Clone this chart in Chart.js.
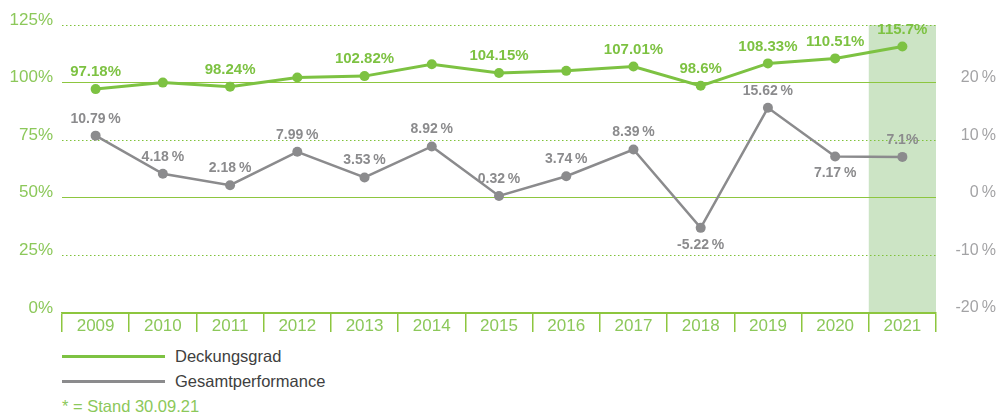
<!DOCTYPE html>
<html><head><meta charset="utf-8">
<script src="https://cdn.jsdelivr.net/npm/chart.js@4/dist/chart.umd.min.js"></script>
<style>
html,body{margin:0;padding:0;background:#fff;width:996px;height:414px;overflow:hidden;font-family:"Liberation Sans",Arial,sans-serif;}
#wrap{position:absolute;left:0;top:0;width:996px;height:340px;}
.leg{position:absolute;left:62px;height:20px;display:flex;align-items:center;font-size:16.5px;color:#404040;}
.leg .ln{display:inline-block;width:103px;height:3px;margin-right:10px;}
#note{position:absolute;left:62px;top:396px;font-size:16.5px;color:#8cc85a;line-height:20px;}
</style>
</head><body>
<div id="wrap"><canvas id="c" width="996" height="340"></canvas></div>
<div class="leg" style="top:346px"><span class="ln" style="background:#7dc242"></span>Deckungsgrad</div>
<div class="leg" style="top:371px"><span class="ln" style="background:#8b8b8d"></span>Gesamtperformance</div>
<div id="note">* = Stand 30.09.21</div>
<script>
const years = ['2009','2010','2011','2012','2013','2014','2015','2016','2017','2018','2019','2020','2021'];
const deckungsgrad = [97.18, 100.0, 98.24, 102.2, 102.82, 108.0, 104.15, 105.1, 107.01, 98.6, 108.33, 110.51, 115.7];
const deckungsLabels = ['97.18%', null, '98.24%', null, '102.82%', null, '104.15%', null, '107.01%', '98.6%', '108.33%', '110.51%', '115.7%'];
const performance = [10.79, 4.18, 2.18, 7.99, 3.53, 8.92, 0.32, 3.74, 8.39, -5.22, 15.62, 7.17, 7.1];
const perfLabels = ['10.79\u2009%', '4.18\u2009%', '2.18\u2009%', '7.99\u2009%', '3.53\u2009%', '8.92\u2009%', '0.32\u2009%', '3.74\u2009%', '8.39\u2009%', '-5.22\u2009%', '15.62\u2009%', '7.17\u2009%', '7.1%'];
const perfBelow = [false,false,false,false,false,false,false,false,false,true,false,true,false];
const highlightYear = '2021';

const GREEN = '#7dc242', GRAY = '#8b8b8d', AXG = '#8cc85a', GRID = '#8dc63f';
const FAM = '"Liberation Sans", Arial, sans-serif';

const shadePlugin = {
  id: 'shade',
  beforeDraw(chart) {
    const x = chart.scales.x, a = chart.chartArea, ctx = chart.ctx;
    const idx = years.indexOf(highlightYear);
    const w = x.width / years.length;
    const cx = x.getPixelForValue(idx);
    ctx.save();
    ctx.fillStyle = '#cce4c5';
    ctx.fillRect(cx - w / 2, a.top, w, a.bottom - a.top);
    ctx.restore();
  }
};

const labelPlugin = {
  id: 'ptLabels',
  afterDatasetsDraw(chart) {
    const ctx = chart.ctx;
    chart.data.datasets.forEach((ds, di) => {
      const meta = chart.getDatasetMeta(di);
      meta.data.forEach((pt, i) => {
        const t = ds.ptLabels[i];
        if (!t) return;
        const below = ds.ptBelow ? ds.ptBelow[i] : false;
        ctx.save();
        ctx.font = ds.ptFont;
        ctx.fillStyle = ds.ptColor;
        ctx.textAlign = 'center';
        ctx.textBaseline = 'middle';
        ctx.fillText(t, pt.x, pt.y + (below ? 17 : -17));
        ctx.restore();
      });
    });
  }
};

new Chart(document.getElementById('c'), {
  type: 'line',
  data: {
    labels: years,
    datasets: [
      {
        label: 'Deckungsgrad', data: deckungsgrad, yAxisID: 'y',
        borderColor: GREEN, backgroundColor: GREEN, borderWidth: 3,
        pointRadius: 5, pointHoverRadius: 5, pointBackgroundColor: GREEN, pointBorderWidth: 0,
        tension: 0, clip: false,
        ptLabels: deckungsLabels, ptFont: 'bold 15px ' + FAM, ptColor: GREEN
      },
      {
        label: 'Gesamtperformance', data: performance, yAxisID: 'y1',
        borderColor: GRAY, backgroundColor: GRAY, borderWidth: 2.5,
        pointRadius: 5, pointHoverRadius: 5, pointBackgroundColor: GRAY, pointBorderWidth: 0,
        tension: 0, clip: false,
        ptLabels: perfLabels, ptBelow: perfBelow, ptFont: 'bold 14px ' + FAM, ptColor: GRAY
      }
    ]
  },
  options: {
    responsive: false, animation: false, events: [],
    layout: { padding: { top: 25, left: 0, right: 0, bottom: 0 } },
    plugins: { legend: { display: false }, tooltip: { enabled: false } },
    scales: {
      x: {
        type: 'category', offset: true,
        grid: { offset: true, drawOnChartArea: false, drawTicks: true, tickLength: 19, color: GRID, lineWidth: 1.5 },
        border: { display: true, color: GRID, width: 1.5 },
        ticks: { padding: -16, color: AXG, font: { size: 17, family: FAM }, maxRotation: 0, autoSkip: false },
        afterFit(s) { s.height = 27; }
      },
      y: {
        position: 'left', min: 0, max: 125,
        ticks: { stepSize: 25, padding: 9, labelOffset: -5, color: AXG, font: { size: 17, family: FAM }, callback: v => v + '%' },
        grid: {
          drawTicks: false, lineWidth: 1,
          color: c => (c.tick && (c.tick.value === 100 || c.tick.value === 50 || c.tick.value === 0)) ? GRID : '#7fc23a'
        },
        border: {
          display: false,
          dash: c => (c.tick && (c.tick.value === 100 || c.tick.value === 50 || c.tick.value === 0)) ? [] : [1.5, 2.5]
        },
        afterFit(s) { s.width = 62; }
      },
      y1: {
        position: 'right', min: -20, max: 30,
        ticks: { stepSize: 10, padding: 4, labelOffset: -5, crossAlign: 'far', color: '#a3a3a5', font: { size: 16, family: FAM }, callback: v => v === 30 ? '' : v + '\u2009%' },
        grid: { display: false, drawTicks: false },
        border: { display: false },
        afterFit(s) { s.width = 60; }
      }
    }
  },
  plugins: [shadePlugin, labelPlugin]
});
</script>
</body></html>
